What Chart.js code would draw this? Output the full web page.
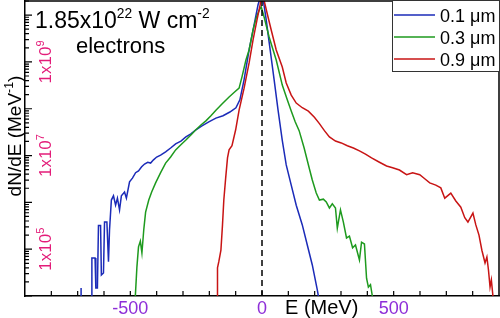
<!DOCTYPE html>
<html>
<head>
<meta charset="utf-8">
<script src="https://cdn.jsdelivr.net/npm/chart.js@4.4.1/dist/chart.umd.min.js"></script>
<style>
  body { margin: 0; background: #fff; }
</style>
</head>
<body>
<canvas id="myChart" width="500" height="318"></canvas>
<script>
// electron spectra, E in MeV, dN/dE in MeV^-1 (null = gap in the line)
const eBlue = [-687, -687, -680,
  -647, -646, -634, -631, -625, -621, -613, -610, -602, -598, -589, -583, -579, -572, -564, -556, -549,
  -541, -534, -522, -515, -503, -492, -480, -469, -457, -446, -434, -423, -412, -400, -385, -366, -347,
  -328, -308, -289, -270, -251, -228, -202, -175, -148, -122, -99, -84, -68, -49, -30, -15, 0,
  16, 31, 46, 61, 77, 92, 111, 130, 153, 172, 191, 210, 214];
const nBlue = [1e4, 1.48e4, null,
  1e4, 6.5e4, 6.5e4, 1.48e4, 1.48e4, 3.2e5, 3.2e5, 2.8e4, 3.1e4, 3.8e5, 3.8e5, 5.4e4, 2.6e5, 1.12e6, 1.38e6, 8.7e5, 1.23e6,
  6.9e5, 1.38e6, 1.66e6, 1.23e6, 2.75e6, 3.3e6, 4.3e6, 4.7e6, 5.75e6, 6.6e6, 7.2e6, 6.9e6, 8.1e6, 9.3e6, 1.02e7, 1.2e7, 1.45e7,
  1.78e7, 2.04e7, 2.5e7, 2.9e7, 3.55e7, 4.3e7, 5.25e7, 6.3e7, 7.1e7, 8.5e7, 1.05e8, 1.55e8, 4.2e8, 1.8e9, 6.2e9, 1.66e10, 3.2e10,
  7.9e9, 1.8e9, 4.2e8, 9.3e7, 2.1e7, 6.3e6, 2.34e6, 8.7e5, 3.3e5, 1.23e5, 4.6e4, 1.35e4, 1e4];

const eGreen = [-481, -475, -469, -462, -456, -449, -442, -430, -419, -404, -385, -366, -347, -328, -308, -289,
  -270, -251, -232, -213, -194, -175, -152, -125, -103, -87, -76, -61, -49, -34, -22, -11, -3,
  8, 27, 54, 77, 96, 111, 126, 141, 160, 179, 191, 206, 218, 233, 244, 256, 267, 279, 286, 298,
  309, 321, 332, 344, 355, 370, 378, 389, 397, 404, 412, 419];
const nGreen = [1e4, 4.2e4, 1.12e5, 1.48e5, 8.3e4, 2.6e5, 6.2e5, 1.12e6, 1.66e6, 2.6e6, 4.3e6, 6.9e6, 9.3e6, 1.32e7, 1.7e7, 2.14e7,
  2.75e7, 3.55e7, 4.5e7, 5.5e7, 7.1e7, 9.3e7, 1.26e8, 1.78e8, 2.3e8, 2.75e8, 4.8e8, 1.1e9, 1.8e9, 4.8e9, 8.7e9, 1.26e10, 1.5e10,
  9.1e9, 3.4e9, 1.1e9, 3.2e8, 1.55e8, 8.9e7, 5.25e7, 3.4e7, 1.45e7, 5.5e6, 3.0e6, 1.58e6, 1.12e6, 1.17e6, 1.02e6, 7.6e5, 9.3e5, 7.6e5, 2.8e5, 6.9e5,
  3.8e5, 1.74e5, 1.9e5, 1.07e5, 1.23e5, 5.9e4, 1.41e5, 1.29e5, 2.4e4, 1.55e4, 1.74e4, 1e4];

const eRed = [-170, -169, -164, -156, -150, -145, -138, -131, -125, -114, -100, -87, -68, -49, -34, -19, -7, 0,
  19, 35, 54, 77, 92, 111, 130, 153, 176, 199, 218, 237, 256, 279, 301, 324, 347, 370, 393, 416, 446,
  473, 496, 522, 549, 572, 599, 618, 637, 660, 679, 694, 717, 736, 755, 770, 782, 801, 812, 824, 835,
  847, 854, 860, 866, 871, 877];
const nRed = [1e4, 4.0e4, 5.4e4, 9.5e4, 3.3e5, 1.12e6, 3.3e6, 8.9e6, 1.32e7, 1.62e7, 3.55e7, 9.3e7, 2.75e8, 9.5e8, 2.95e9, 7.9e9, 1.66e10, 3.2e10,
  1.12e10, 4.8e9, 1.8e9, 7.8e8, 3.55e8, 1.95e8, 1.32e8, 1.05e8, 8.9e7, 6.6e7, 4.8e7, 3.4e7, 2.5e7, 2.04e7, 1.86e7, 1.62e7, 1.45e7, 1.26e7, 1.07e7, 8.9e6, 7.2e6,
  6.0e6, 5.5e6, 4.9e6, 3.9e6, 4.3e6, 3.9e6, 3.2e6, 2.6e6, 2.34e6, 2.04e6, 1.23e6, 1.58e6, 1.07e6, 7.9e5, 4.7e5, 3.8e5, 5.9e5, 3.3e5, 2.0e5, 9.5e4,
  5.1e4, 6.8e4, 3.6e4, 1.55e4, 2.2e4, 1e4];

const seriesNames = ['0.1 μm', '0.3 μm', '0.9 μm'];
const seriesColors = ['#1b2bb8', '#1e9a1e', '#c81414'];

const xTickLabels = [-500, 0, 500];
const yTickExps = [5, 7, 9];

const FONT = '"Liberation Sans", Arial, sans-serif';

function toPoints(es, ns) {
  return es.map((e, i) => ({ x: e, y: ns[i] }));
}

// text with superscript pieces
function drawRich(ctx, parts, x, y, size, color, align, supScale) {
  const ss = supScale || 0.65;
  let w = 0;
  parts.forEach(p => {
    ctx.font = (p.sup ? size * ss : size) + 'px ' + FONT;
    w += ctx.measureText(p.t).width;
  });
  let cx = align === 'center' ? x - w / 2 : x;
  ctx.fillStyle = color;
  ctx.textAlign = 'left';
  ctx.textBaseline = 'alphabetic';
  parts.forEach(p => {
    const s = p.sup ? size * ss : size;
    ctx.font = s + 'px ' + FONT;
    ctx.fillText(p.t, cx, p.sup ? y - size * 0.42 : y);
    cx += ctx.measureText(p.t).width;
  });
}

const decor = {
  id: 'decor',
  afterDraw(chart) {
    const ctx = chart.ctx;
    const a = chart.chartArea;
    const xs = chart.scales.x, ys = chart.scales.y;
    ctx.save();

    // frame top and right
    ctx.strokeStyle = '#000';
    ctx.lineWidth = 1.5;
    ctx.beginPath();
    ctx.moveTo(a.left, a.top); ctx.lineTo(a.right, a.top); ctx.lineTo(a.right, a.bottom);
    ctx.stroke();

    // inward ticks
    ctx.lineWidth = 1.2;
    ctx.beginPath();
    for (let v = -800; v <= 800; v += 100) {
      const px = xs.getPixelForValue(v);
      ctx.moveTo(px, a.bottom); ctx.lineTo(px, a.bottom - 5);
    }
    for (let d = 4; d <= 10; d++) {
      for (let k = 1; k <= 9; k++) {
        const v = k * Math.pow(10, d);
        if (v > ys.max) break;
        const py = ys.getPixelForValue(v);
        ctx.moveTo(a.left, py); ctx.lineTo(a.left + (k === 1 ? 7 : 4), py);
      }
    }
    ctx.stroke();

    // x tick labels
    xTickLabels.forEach(v => {
      drawRich(ctx, [{ t: v < 0 ? '-' + Math.abs(v) : String(v) }], xs.getPixelForValue(v), 314, 18, '#8e2ed8', 'center');
    });
    drawRich(ctx, [{ t: 'E (MeV)' }], 285, 314, 20, '#000', 'left');

    // y tick labels, rotated
    yTickExps.forEach(ex => {
      const py = ys.getPixelForValue(Math.pow(10, ex));
      ctx.save();
      ctx.translate(51, py);
      ctx.rotate(-Math.PI / 2);
      drawRich(ctx, [{ t: '1x10' }, { t: String(ex), sup: true }], 0, 0, 17, '#e31c79', 'center');
      ctx.restore();
    });

    // y title
    ctx.save();
    ctx.translate(21, 136);
    ctx.rotate(-Math.PI / 2);
    drawRich(ctx, [{ t: 'dN/dE (MeV' }, { t: '-1', sup: true }, { t: ')' }], 0, 0, 19, '#000', 'center');
    ctx.restore();

    // annotation
    drawRich(ctx, [{ t: '1.85x10' }, { t: '22', sup: true }, { t: ' W cm' }, { t: '-2', sup: true }], 35, 28, 23, '#000', 'left', 0.6);
    drawRich(ctx, [{ t: 'electrons' }], 76, 53, 22, '#000', 'left');

    // legend box
    ctx.fillStyle = '#fff';
    ctx.fillRect(392, 1, 107, 70);
    ctx.strokeStyle = '#333';
    ctx.lineWidth = 1;
    ctx.strokeRect(392.5, 0.5, 107, 71);
    seriesNames.forEach((name, i) => {
      const ly = 15 + i * 22;
      ctx.strokeStyle = seriesColors[i];
      ctx.lineWidth = 1.5;
      ctx.beginPath();
      ctx.moveTo(394, ly); ctx.lineTo(435, ly);
      ctx.stroke();
      drawRich(ctx, [{ t: name }], 440, ly + 7, 18, '#000', 'left');
    });

    ctx.restore();
  }
};

const datasets = [
  { label: seriesNames[0], data: toPoints(eBlue, nBlue), borderColor: seriesColors[0], order: 3 },
  { label: seriesNames[1], data: toPoints(eGreen, nGreen), borderColor: seriesColors[1], order: 2 },
  { label: seriesNames[2], data: toPoints(eRed, nRed), borderColor: seriesColors[2], order: 1 },
  { label: 'E=0', data: [{ x: 0, y: 1e4 }, { x: 0, y: 2e10 }], borderColor: '#000', borderDash: [6, 4], borderWidth: 1.5, order: 0 }
].map(d => Object.assign({ showLine: true, pointRadius: 0, borderWidth: 1.5, tension: 0, spanGaps: false, fill: false }, d));

const ctx = document.getElementById('myChart').getContext('2d');
const myChart = new Chart(ctx, {
  type: 'scatter',
  data: { datasets: datasets },
  options: {
    responsive: false,
    animation: false,
    layout: { padding: { left: 0, top: 1, right: 1, bottom: 0 } },
    plugins: { legend: { display: false }, tooltip: { enabled: false } },
    scales: {
      x: {
        type: 'linear', min: -900, max: 900,
        ticks: { display: false },
        grid: { display: false },
        border: { display: true, color: '#000', width: 1.5 },
        afterFit: s => { s.height = 22; }
      },
      y: {
        type: 'logarithmic', min: 1e4, max: 2e10,
        ticks: { display: false },
        grid: { display: false },
        border: { display: true, color: '#000', width: 1.5 },
        afterFit: s => { s.width = 25; }
      }
    }
  },
  plugins: [decor]
});
</script>
</body>
</html>
